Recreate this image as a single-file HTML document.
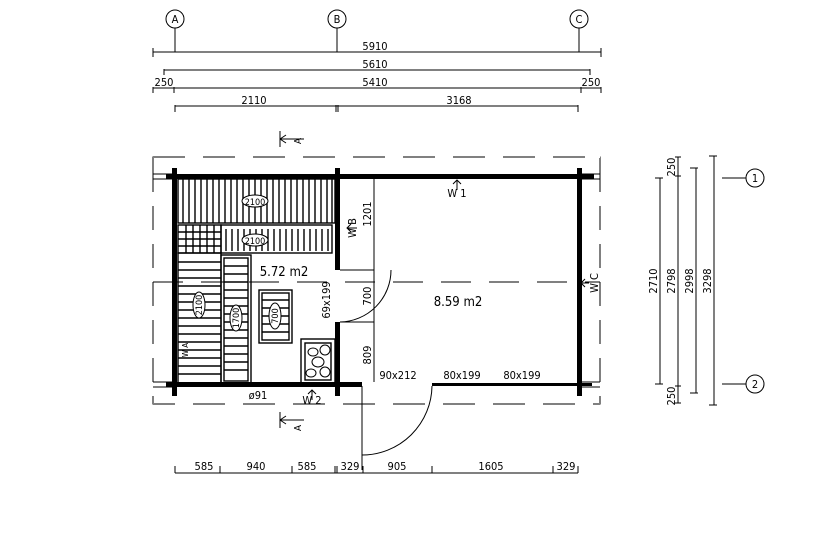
<!DOCTYPE html>
<html><head><meta charset="utf-8"><style>
html,body{margin:0;padding:0;background:#fff;}
svg{display:block;}
text{font-family:"DejaVu Sans Condensed","Liberation Sans",sans-serif;font-size:11px;fill:#000;}
</style></head><body>
<svg width="840" height="553" viewBox="0 0 840 553" xmlns="http://www.w3.org/2000/svg">
<g stroke="#000" stroke-width="1" fill="none">
<circle cx="175" cy="19" r="9"/><circle cx="337" cy="19" r="9"/><circle cx="579" cy="19" r="9"/>
<line x1="175" y1="28" x2="175" y2="52"/><line x1="337" y1="28" x2="337" y2="52"/><line x1="579" y1="28" x2="579" y2="52"/>
<line x1="153" y1="52" x2="601" y2="52"/><line x1="153" y1="48" x2="153" y2="57"/><line x1="601" y1="48" x2="601" y2="57"/>
<line x1="164" y1="70" x2="590" y2="70"/><line x1="164" y1="69" x2="164" y2="75"/><line x1="590" y1="69" x2="590" y2="75"/>
<line x1="153" y1="88" x2="601" y2="88"/><line x1="153" y1="87" x2="153" y2="93"/><line x1="174" y1="87" x2="174" y2="93"/><line x1="581" y1="87" x2="581" y2="93"/><line x1="601" y1="87" x2="601" y2="93"/>
<line x1="175" y1="106" x2="578" y2="106"/><line x1="175" y1="105" x2="175" y2="112"/><line x1="336" y1="105" x2="336" y2="112"/><line x1="338" y1="105" x2="338" y2="112"/><line x1="578" y1="105" x2="578" y2="112"/>
<path d="M153 168 V157 H600 V168" />
<path d="M153 396 V404 H600 V396" />
<line x1="153" y1="157" x2="600" y2="157" stroke="#fff" stroke-width="2"/>
<line x1="153" y1="157" x2="600" y2="157" stroke-dasharray="32,18"/>
<line x1="153" y1="404" x2="600" y2="404" stroke="#fff" stroke-width="2"/>
<line x1="153" y1="404" x2="600" y2="404" stroke-dasharray="32,18" stroke-dashoffset="10"/>
<line x1="153" y1="168" x2="153" y2="396" stroke-dasharray="24,14"/>
<line x1="600" y1="168" x2="600" y2="396" stroke-dasharray="24,14"/>
<line x1="153" y1="282" x2="600" y2="282" stroke-dasharray="30,18"/>
<line x1="153" y1="174" x2="174" y2="174"/><line x1="153" y1="179" x2="174" y2="179"/>
<line x1="579" y1="174" x2="600" y2="174"/><line x1="579" y1="179" x2="600" y2="179"/>
<line x1="153" y1="382" x2="174" y2="382"/><line x1="153" y1="387" x2="174" y2="387"/>
<line x1="579" y1="382" x2="600" y2="382"/><line x1="579" y1="387" x2="600" y2="387"/>
</g>
<g fill="#000">
<rect x="166" y="174" width="428" height="5"/>
<rect x="166" y="382" width="196" height="5"/>
<rect x="432" y="383" width="160" height="3"/>
<rect x="172" y="168" width="5" height="228"/>
<rect x="335" y="168" width="5" height="102"/>
<rect x="335" y="322" width="5" height="74"/>
<rect x="577" y="168" width="5" height="228"/>
</g>
<g stroke="#000" fill="none" stroke-width="1">
<line x1="374" y1="179" x2="374" y2="382"/>
<line x1="340" y1="270" x2="374" y2="270"/><line x1="340" y1="322" x2="374" y2="322"/>
<path d="M340 322 A52 52 0 0 0 391 270"/>
<line x1="362" y1="386" x2="362" y2="455"/>
<path d="M362 455 A70 70 0 0 0 432 386"/>
<line x1="362" y1="386" x2="362" y2="470"/>
</g>
<g stroke="#000" fill="none" stroke-width="1.4">
<rect x="178" y="179" width="157" height="44"/>
<rect x="178" y="225" width="43" height="28"/>
<rect x="221" y="225" width="111" height="28"/>
<rect x="178" y="253" width="43" height="130"/>
<rect x="221" y="255" width="30" height="128"/>
<rect x="224" y="258" width="24" height="123"/>
<rect x="259" y="290" width="33" height="53"/>
<rect x="262" y="293" width="27" height="47"/>
<rect x="301" y="339" width="34" height="45"/>
<rect x="305" y="343" width="26" height="37"/>
</g>
<g stroke="#000" stroke-width="1.4">
<path d="M183 179v44M189 179v44M195 179v44M201 179v44M207 179v44M213 179v44M219 179v44M225 179v44M231 179v44M237 179v44M243 179v44M249 179v44M255 179v44M261 179v44M267 179v44M273 179v44M279 179v44M285 179v44M291 179v44M297 179v44M303 179v44M309 179v44M315 179v44M321 179v44M327 179v44M332 179v44"/>
<path d="M226 229v22M232 229v22M238 229v22M244 229v22M250 229v22M256 229v22M262 229v22M268 229v22M274 229v22M280 229v22M286 229v22M292 229v22M298 229v22M304 229v22M310 229v22M316 229v22M322 229v22M328 229v22"/>
<path d="M186 225v28M193 225v28M200 225v28M207 225v28M214 225v28M178 232h43M178 239h43M178 246h43"/>
<path d="M178 262h43M178 270h43M178 278h43M178 286h43M178 294h43M178 302h43M178 310h43M178 318h43M178 326h43M178 334h43M178 342h43M178 350h43M178 358h43M178 366h43M178 374h43"/>
<path d="M224 266h24M224 274h24M224 282h24M224 290h24M224 298h24M224 306h24M224 314h24M224 322h24M224 330h24M224 338h24M224 346h24M224 354h24M224 362h24M224 370h24"/>
<path d="M262 300h27M262 308h27M262 316h27M262 324h27M262 332h27"/>
</g>
<g fill="#fff" stroke="#000">
<ellipse cx="255" cy="201" rx="13" ry="6"/><ellipse cx="255" cy="240" rx="13" ry="6"/>
<ellipse cx="199" cy="305" rx="6" ry="13"/><ellipse cx="236" cy="318" rx="6" ry="13"/><ellipse cx="275" cy="316" rx="6" ry="13"/>
<ellipse cx="313" cy="352" rx="5" ry="4"/><ellipse cx="325" cy="350" rx="5" ry="5"/><ellipse cx="318" cy="362" rx="6" ry="5"/><ellipse cx="311" cy="373" rx="5" ry="4"/><ellipse cx="325" cy="372" rx="5" ry="5"/>
</g>
<text x="255" y="205" text-anchor="middle" style="font-size:9px">2100</text>
<text x="255" y="244" text-anchor="middle" style="font-size:9px">2100</text>
<text transform="translate(202,305) rotate(-90)" text-anchor="middle" style="font-size:9px">2100</text>
<text transform="translate(239,318) rotate(-90)" text-anchor="middle" style="font-size:9px">1700</text>
<text transform="translate(278,316) rotate(-90)" text-anchor="middle" style="font-size:9px">700</text>
<g stroke="#000" fill="none">
<line x1="660" y1="178" x2="660" y2="384"/><line x1="655" y1="178" x2="663" y2="178"/><line x1="655" y1="384" x2="663" y2="384"/>
<line x1="678" y1="157" x2="678" y2="403"/><line x1="675" y1="157" x2="681" y2="157"/><line x1="675" y1="176" x2="681" y2="176"/><line x1="675" y1="386" x2="681" y2="386"/><line x1="675" y1="403" x2="681" y2="403"/>
<line x1="696" y1="168" x2="696" y2="393"/><line x1="690" y1="168" x2="698" y2="168"/><line x1="690" y1="393" x2="698" y2="393"/>
<line x1="714" y1="156" x2="714" y2="405"/><line x1="709" y1="156" x2="717" y2="156"/><line x1="709" y1="405" x2="717" y2="405"/>
<line x1="722" y1="178" x2="746" y2="178"/><circle cx="755" cy="178" r="9"/>
<line x1="722" y1="384" x2="746" y2="384"/><circle cx="755" cy="384" r="9"/>
<line x1="175" y1="473" x2="578" y2="473"/>
<path d="M175 466v7M220 466v7M292 466v7M335 466v7M337 466v7M363 466v7M432 466v7M553 466v7M578 466v7"/>
<path d="M280 131v16M280 139h24M280 139l6-4M280 139l6 4"/>
<path d="M280 412v16M280 420h24M280 420l6-4M280 420l6 4"/>
</g>
<text x="375" y="50" text-anchor="middle">5910</text>
<text x="375" y="68" text-anchor="middle">5610</text>
<text x="375" y="86" text-anchor="middle">5410</text>
<text x="164" y="86" text-anchor="middle">250</text>
<text x="591" y="86" text-anchor="middle">250</text>
<text x="254" y="104" text-anchor="middle">2110</text>
<text x="459" y="104" text-anchor="middle">3168</text>
<text x="175" y="23" text-anchor="middle">A</text><text x="337" y="23" text-anchor="middle">B</text><text x="579" y="23" text-anchor="middle">C</text>
<text x="755" y="182" text-anchor="middle">1</text><text x="755" y="388" text-anchor="middle">2</text>
<text transform="translate(657,281) rotate(-90)" text-anchor="middle">2710</text>
<text transform="translate(675,281) rotate(-90)" text-anchor="middle">2798</text>
<text transform="translate(693,281) rotate(-90)" text-anchor="middle">2998</text>
<text transform="translate(711,281) rotate(-90)" text-anchor="middle">3298</text>
<text transform="translate(675,167) rotate(-90)" text-anchor="middle">250</text>
<text transform="translate(675,396) rotate(-90)" text-anchor="middle">250</text>
<text x="204" y="470" text-anchor="middle">585</text>
<text x="256" y="470" text-anchor="middle">940</text>
<text x="307" y="470" text-anchor="middle">585</text>
<text x="350" y="470" text-anchor="middle">329</text>
<text x="397" y="470" text-anchor="middle">905</text>
<text x="491" y="470" text-anchor="middle">1605</text>
<text x="566" y="470" text-anchor="middle">329</text>
<text x="284" y="276" text-anchor="middle" style="font-size:13px">5.72 m2</text>
<text x="458" y="306" text-anchor="middle" style="font-size:13px">8.59 m2</text>
<text x="398" y="379" text-anchor="middle">90x212</text>
<text x="462" y="379" text-anchor="middle">80x199</text>
<text x="522" y="379" text-anchor="middle">80x199</text>
<text transform="translate(371,214) rotate(-90)" text-anchor="middle">1201</text>
<text transform="translate(371,296) rotate(-90)" text-anchor="middle">700</text>
<text transform="translate(371,355) rotate(-90)" text-anchor="middle">809</text>
<text transform="translate(330,300) rotate(-90)" text-anchor="middle">69x199</text>
<text transform="translate(356,228) rotate(-90)" text-anchor="middle">W B</text>
<text x="457" y="197" text-anchor="middle">W 1</text>
<text transform="translate(598,283) rotate(-90)" text-anchor="middle">W C</text>
<text x="258" y="399" text-anchor="middle">ø91</text>
<text x="312" y="404" text-anchor="middle">W 2</text>
<text transform="translate(188,350) rotate(-90)" text-anchor="middle" style="font-size:8px">W A</text>
<text transform="translate(301,141) rotate(-90)" text-anchor="middle" style="font-size:10px">A</text>
<text transform="translate(301,428) rotate(-90)" text-anchor="middle" style="font-size:10px">A</text>
<g stroke="#000" fill="none">
<path d="M457 180v10M453 184l4-4 4 4"/><path d="M347 228h10M351 224l-4 4 4 4"/>
<path d="M312 390v10M308 394l4-4 4 4"/><path d="M589 283h-8M585 279l-4 4 4 4"/>
</g>
</svg>
</body></html>
